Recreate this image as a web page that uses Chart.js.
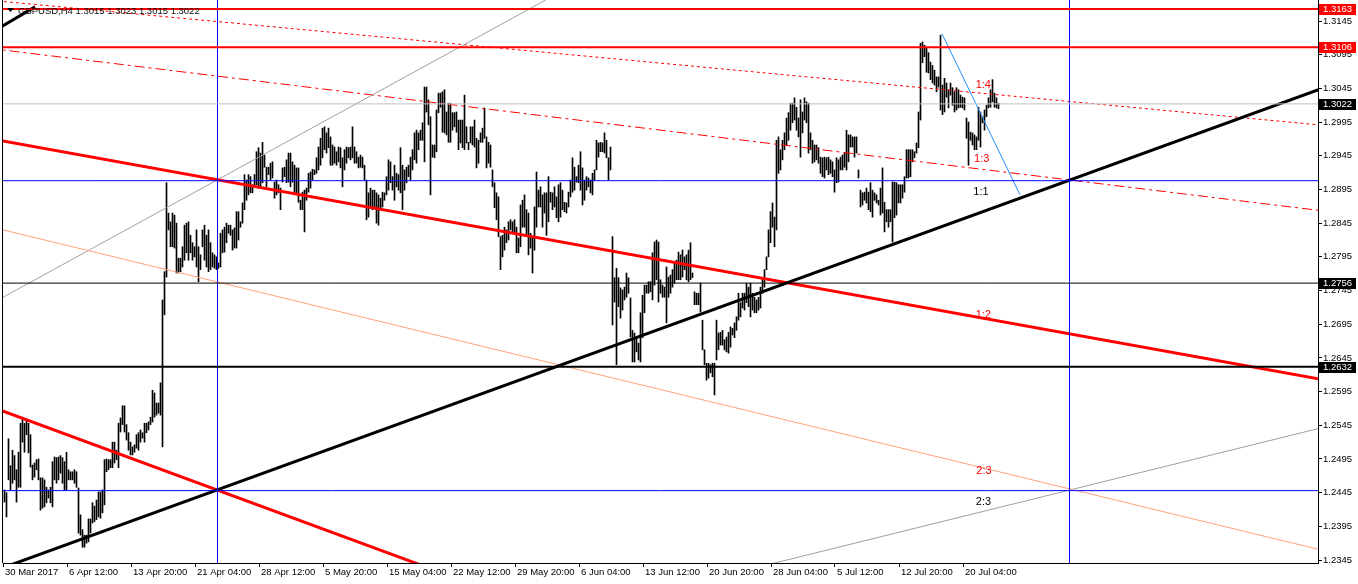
<!DOCTYPE html>
<html><head><meta charset="utf-8">
<script src="https://cdn.jsdelivr.net/npm/chart.js@4.4.1/dist/chart.umd.min.js"></script>
<style>html,body{margin:0;padding:0;background:#fff;overflow:hidden}canvas{display:block}</style>
</head><body>
<div style="width:1358px;height:584px;position:relative"><canvas id="c" width="1358" height="584"></canvas></div>
<script>
// ---- H4 bars (high / low), one per bar, oldest first ----
const highs = [
1.2449,1.2445,1.2525,1.2485,1.2508,1.2500,1.2479,1.2505,1.2548,1.2557,
1.2548,1.2554,1.2548,1.2531,1.2486,1.2489,1.2494,1.2495,1.2467,1.2467,
1.2464,1.2453,1.2449,1.2453,1.2491,1.2498,1.2497,1.2498,1.2500,1.2497,
1.2491,1.2505,1.2479,1.2476,1.2476,1.2479,1.2476,1.2452,1.2412,1.2390,
1.2382,1.2382,1.2406,1.2406,1.2430,1.2425,1.2434,1.2446,1.2446,1.2449,
1.2494,1.2495,1.2494,1.2494,1.2520,1.2520,1.2508,1.2548,1.2556,1.2574,
1.2574,1.2546,1.2534,1.2520,1.2513,1.2516,1.2531,1.2534,1.2538,1.2534,
1.2548,1.2548,1.2550,1.2557,1.2597,1.2593,1.2578,1.2578,1.2608,1.2731,
1.2773,1.2905,1.2860,1.2847,1.2860,1.2857,1.2845,1.2793,1.2793,1.2810,
1.2842,1.2845,1.2847,1.2827,1.2816,1.2810,1.2835,1.2810,1.2798,1.2835,
1.2842,1.2827,1.2835,1.2816,1.2801,1.2798,1.2795,1.2786,1.2830,1.2835,
1.2839,1.2845,1.2842,1.2842,1.2835,1.2838,1.2862,1.2862,1.2847,1.2875,
1.2917,1.2909,1.2917,1.2914,1.2902,1.2917,1.2951,1.2957,1.2949,1.2965,
1.2946,1.2928,1.2928,1.2934,1.2936,1.2906,1.2909,1.2902,1.2897,1.2927,
1.2928,1.2939,1.2949,1.2949,1.2936,1.2931,1.2927,1.2927,1.2879,1.2891,
1.2894,1.2897,1.2919,1.2921,1.2925,1.2924,1.2942,1.2958,1.2971,1.2986,
1.2988,1.2979,1.2986,1.2973,1.2961,1.2958,1.2951,1.2958,1.2957,1.2942,
1.2954,1.2958,1.2957,1.2958,1.2988,1.2958,1.2951,1.2943,1.2946,1.2943,
1.2931,1.2909,1.2890,1.2897,1.2894,1.2894,1.2890,1.2887,1.2882,1.2891,
1.2890,1.2914,1.2939,1.2936,1.2914,1.2931,1.2919,1.2917,1.2957,1.2931,
1.2924,1.2928,1.2931,1.2943,1.2954,1.2979,1.2983,1.2979,1.2983,1.2994,
1.3047,1.3047,1.3028,1.3003,1.2961,1.2961,1.3013,1.3038,1.3038,1.3040,
1.3043,1.3010,1.3023,1.3023,1.3009,1.3009,1.3010,1.2998,1.2998,1.2998,
1.3035,1.2988,1.2965,1.2988,1.2988,1.2998,1.2971,1.2968,1.2979,1.2986,
1.3016,1.2973,1.2965,1.2961,1.2924,1.2905,1.2890,1.2884,1.2825,1.2827,
1.2839,1.2835,1.2847,1.2850,1.2847,1.2850,1.2839,1.2823,1.2872,1.2879,
1.2887,1.2865,1.2860,1.2830,1.2825,1.2869,1.2921,1.2894,1.2899,1.2887,
1.2890,1.2890,1.2914,1.2891,1.2890,1.2899,1.2884,1.2902,1.2905,1.2894,
1.2876,1.2875,1.2891,1.2909,1.2942,1.2928,1.2914,1.2931,1.2951,1.2927,
1.2909,1.2914,1.2912,1.2909,1.2919,1.2924,1.2968,1.2964,1.2965,1.2964,
1.2979,1.2968,1.2942,1.2958,1.2825,1.2764,1.2778,1.2764,1.2749,1.2746,
1.2750,1.2771,1.2764,1.2734,1.2686,1.2682,1.2676,1.2667,1.2712,1.2738,
1.2753,1.2753,1.2758,1.2758,1.2801,1.2817,1.2820,1.2817,1.2761,1.2753,
1.2750,1.2780,1.2765,1.2768,1.2776,1.2786,1.2790,1.2802,1.2798,1.2805,
1.2795,1.2798,1.2805,1.2816,1.2771,1.2743,1.2741,1.2741,1.2756,1.2701,
1.2657,1.2637,1.2637,1.2635,1.2637,1.2637,1.2701,1.2682,1.2683,1.2686,
1.2672,1.2676,1.2683,1.2691,1.2689,1.2697,1.2706,1.2741,1.2727,1.2741,
1.2741,1.2756,1.2750,1.2756,1.2741,1.2735,1.2731,1.2735,1.2750,1.2764,
1.2776,1.2795,1.2835,1.2862,1.2875,1.2854,1.2968,1.2973,1.2954,1.2968,
1.2979,1.3001,1.3009,1.3023,1.3023,1.3031,1.3017,1.3001,1.3028,1.3010,
1.3031,1.3025,1.3023,1.2979,1.2968,1.2961,1.2961,1.2957,1.2943,1.2942,
1.2943,1.2942,1.2943,1.2939,1.2936,1.2924,1.2942,1.2939,1.2943,1.2946,
1.2949,1.2983,1.2976,1.2976,1.2973,1.2973,1.2973,1.2924,1.2894,1.2890,
1.2891,1.2897,1.2891,1.2905,1.2894,1.2890,1.2887,1.2879,1.2897,1.2927,
1.2876,1.2865,1.2865,1.2865,1.2906,1.2906,1.2905,1.2902,1.2902,1.2902,
1.2914,1.2954,1.2954,1.2954,1.2954,1.2951,1.2964,1.3010,1.3112,1.3114,
1.3109,1.3105,1.3098,1.3084,1.3079,1.3072,1.3062,1.3062,1.3124,1.3050,
1.3060,1.3053,1.3043,1.3053,1.3046,1.3040,1.3046,1.3043,1.3035,1.3032,
1.3031,1.3001,1.2995,1.2980,1.2979,1.2976,1.2973,1.3017,1.3010,1.3003,
1.3013,1.3020,1.3031,1.3043,1.3058,1.3038,1.3031,1.3023
];
const lows = [
1.2431,1.2409,1.2464,1.2449,1.2459,1.2464,1.2431,1.2453,1.2453,1.2520,
1.2505,1.2531,1.2504,1.2483,1.2464,1.2468,1.2479,1.2464,1.2419,1.2422,
1.2424,1.2430,1.2437,1.2430,1.2424,1.2464,1.2459,1.2464,1.2474,1.2459,
1.2449,1.2449,1.2464,1.2464,1.2464,1.2459,1.2453,1.2385,1.2382,1.2364,
1.2364,1.2370,1.2372,1.2385,1.2400,1.2402,1.2405,1.2409,1.2407,1.2415,
1.2427,1.2476,1.2479,1.2482,1.2482,1.2489,1.2494,1.2482,1.2535,1.2546,
1.2535,1.2523,1.2508,1.2501,1.2501,1.2505,1.2511,1.2508,1.2520,1.2526,
1.2520,1.2534,1.2538,1.2546,1.2550,1.2557,1.2560,1.2563,1.2560,1.2513,
1.2709,1.2765,1.2835,1.2810,1.2810,1.2808,1.2771,1.2771,1.2773,1.2780,
1.2790,1.2801,1.2790,1.2801,1.2790,1.2795,1.2780,1.2758,1.2776,1.2810,
1.2790,1.2780,1.2773,1.2776,1.2780,1.2778,1.2776,1.2778,1.2780,1.2801,
1.2802,1.2816,1.2830,1.2827,1.2805,1.2808,1.2808,1.2820,1.2839,1.2845,
1.2865,1.2879,1.2887,1.2890,1.2890,1.2899,1.2902,1.2897,1.2899,1.2905,
1.2928,1.2899,1.2917,1.2909,1.2912,1.2882,1.2887,1.2890,1.2865,1.2906,
1.2914,1.2905,1.2906,1.2899,1.2906,1.2890,1.2890,1.2876,1.2865,1.2865,
1.2832,1.2879,1.2891,1.2897,1.2909,1.2917,1.2919,1.2924,1.2931,1.2942,
1.2954,1.2949,1.2957,1.2931,1.2931,1.2934,1.2931,1.2936,1.2927,1.2899,
1.2924,1.2934,1.2942,1.2939,1.2942,1.2934,1.2934,1.2927,1.2928,1.2927,
1.2909,1.2850,1.2854,1.2868,1.2865,1.2869,1.2845,1.2842,1.2865,1.2869,
1.2879,1.2887,1.2894,1.2905,1.2894,1.2879,1.2899,1.2894,1.2890,1.2865,
1.2894,1.2905,1.2914,1.2909,1.2924,1.2939,1.2934,1.2954,1.2968,1.2968,
1.2936,1.3010,1.2991,1.2887,1.2943,1.2942,1.2951,1.3009,1.3017,1.2980,
1.2979,1.2976,1.2965,1.2965,1.2983,1.2988,1.2980,1.2954,1.2964,1.2957,
1.2954,1.2964,1.2954,1.2964,1.2961,1.2958,1.2927,1.2934,1.2965,1.2965,
1.2971,1.2927,1.2934,1.2928,1.2899,1.2868,1.2850,1.2825,1.2776,1.2795,
1.2805,1.2816,1.2820,1.2835,1.2832,1.2830,1.2801,1.2801,1.2810,1.2839,
1.2839,1.2825,1.2798,1.2808,1.2771,1.2805,1.2839,1.2869,1.2869,1.2839,
1.2860,1.2827,1.2847,1.2876,1.2865,1.2869,1.2853,1.2847,1.2854,1.2865,
1.2862,1.2860,1.2869,1.2884,1.2891,1.2894,1.2906,1.2905,1.2894,1.2872,
1.2879,1.2894,1.2899,1.2890,1.2887,1.2909,1.2924,1.2943,1.2951,1.2951,
1.2949,1.2942,1.2909,1.2924,1.2694,1.2728,1.2635,1.2721,1.2704,1.2716,
1.2731,1.2735,1.2741,1.2676,1.2639,1.2639,1.2654,1.2642,1.2639,1.2675,
1.2712,1.2741,1.2741,1.2743,1.2731,1.2753,1.2761,1.2728,1.2741,1.2735,
1.2735,1.2697,1.2735,1.2741,1.2750,1.2756,1.2761,1.2761,1.2761,1.2765,
1.2776,1.2761,1.2758,1.2761,1.2764,1.2724,1.2724,1.2724,1.2713,1.2657,
1.2635,1.2612,1.2615,1.2623,1.2617,1.2590,1.2642,1.2657,1.2664,1.2664,
1.2657,1.2654,1.2652,1.2661,1.2679,1.2675,1.2686,1.2701,1.2706,1.2719,
1.2716,1.2727,1.2721,1.2706,1.2716,1.2712,1.2712,1.2716,1.2719,1.2741,
1.2750,1.2776,1.2795,1.2816,1.2839,1.2810,1.2835,1.2919,1.2924,1.2939,
1.2954,1.2961,1.2968,1.2983,1.2994,1.2998,1.2983,1.2973,1.2943,1.2979,
1.2998,1.2994,1.2949,1.2954,1.2934,1.2936,1.2939,1.2934,1.2919,1.2914,
1.2912,1.2924,1.2917,1.2919,1.2914,1.2891,1.2905,1.2906,1.2924,1.2924,
1.2928,1.2924,1.2936,1.2958,1.2958,1.2943,1.2949,1.2912,1.2869,1.2872,
1.2879,1.2875,1.2865,1.2862,1.2854,1.2879,1.2875,1.2872,1.2857,1.2860,
1.2832,1.2847,1.2839,1.2847,1.2817,1.2853,1.2857,1.2875,1.2875,1.2882,
1.2891,1.2912,1.2912,1.2914,1.2936,1.2942,1.2949,1.2957,1.2998,1.3083,
1.3092,1.3069,1.3068,1.3058,1.3053,1.3050,1.3040,1.3047,1.3013,1.3006,
1.3010,1.3032,1.3016,1.3035,1.3020,1.3010,1.3013,1.3016,1.3017,1.3016,
1.3013,1.2971,1.2931,1.2968,1.2961,1.2954,1.2954,1.2968,1.2958,1.2994,
1.2983,1.3003,1.3016,1.3017,1.3025,1.3017,1.3016,1.3015
];

// ---- axis labels ----
const timeLabels = ["30 Mar 2017","6 Apr 12:00","13 Apr 20:00","21 Apr 04:00","28 Apr 12:00","5 May 20:00","15 May 04:00","22 May 12:00","29 May 20:00","6 Jun 04:00","13 Jun 12:00","20 Jun 20:00","28 Jun 04:00","5 Jul 12:00","12 Jul 20:00","20 Jul 04:00"];
const timeLabelBars = [0,32,64,96,128,160,192,224,256,288,320,352,384,416,448,480];
const priceTicks = [1.3145,1.3095,1.3045,1.2995,1.2945,1.2895,1.2845,1.2795,1.2745,1.2695,1.2645,1.2595,1.2545,1.2495,1.2445,1.2395,1.2345];

// ---- header ----
const symbolName = "GBPUSD";
const periodName = "H4";
const lastOHLC = [1.3015, 1.3023, 1.3015, 1.3022];

// ---- horizontal levels ----
const levelPrices = [1.3163, 1.3106, 1.3022, 1.2908, 1.2756, 1.2632, 1.2448];
const levelColors = ["#ff0000","#ff0000","#c0c0c0","#0000ff","#000000","#000000","#0000ff"];
const levelWidths = [2, 2, 1, 1, 1, 2, 1];
const levelBoxed  = [true, true, true, false, true, true, false];
const levelBoxBg  = ["#ff0000","#ff0000","#000000","","#000000","#000000",""];

// ---- vertical lines (bar positions) ----
const vLineBars = [106.5, 532.5];

// ---- trend lines: anchor bar / price pairs ----
const trendBar1   = [106.25, -0.75, -0.75, -0.75, -0.75, -0.75, 532.75, -0.75, -0.75, 468.75];
const trendPrice1 = [1.2449, 1.3138, 1.2967, 1.2566, 1.2835, 1.2735, 1.2449, 1.3174, 1.3102, 1.3126];
const trendBar2   = [532.75, 15.25, 656.75, 106.25, 656.75, 106.25, 656.75, 656.75, 532.75, 507.75];
const trendPrice2 = [1.2909, 1.3166, 1.2614, 1.2449, 1.2361, 1.2909, 1.2540, 1.2991, 1.2909, 1.2887];
const trendRay    = ["both","left","both","both","both","both","both","both","both","none"];
const trendColor  = ["#000000","#000000","#ff0000","#ff0000","#ffa07a","#a0a0a0","#a0a0a0","#ff0000","#ff0000","#1e90ff"];
const trendWidth  = [3, 3, 3, 3, 1, 1, 1, 1, 1, 1];
const trendDash   = [[],[],[],[],[],[],[],[3,3],[10,4,3,4],[]];

// ---- text objects ----
const textLabels = ["1:4","1:3","1:1","1:2","2:3","2:3"];
const textBars   = [489.4, 488.6, 488.25, 489.4, 489.75, 489.5];
const textPrices = [1.3050, 1.2940, 1.2891, 1.2709, 1.2477, 1.2431];
const textColors = ["#ff0000","#ff0000","#000000","#ff0000","#ff0000","#000000"];

const X_MIN = -0.75, X_MAX = 656.75;
const Y_MIN = 1.23406, Y_MAX = 1.31762;
const FONT = '"Liberation Sans", Arial, sans-serif';

const datasets = [];
datasets.push({
  type: 'bar', label: 'bars', order: 10,
  data: highs.map((h, i) => ({x: i, y: [lows[i], h]})),
  backgroundColor: '#000', borderWidth: 0, barThickness: 1, minBarLength: 1
});
function lineDs(pts, color, width, dash) {
  return {type:'line', order:0, data: pts, borderColor: color, borderWidth: width,
    borderDash: dash || [], pointRadius: 0, fill: false, tension: 0, borderCapStyle: 'butt'};
}
levelPrices.forEach((p, k) => {
  datasets.push(lineDs([{x:X_MIN,y:p},{x:X_MAX,y:p}], levelColors[k], levelWidths[k]));
});
vLineBars.forEach(b => {
  datasets.push(lineDs([{x:b,y:Y_MIN},{x:b,y:Y_MAX}], '#0000ff', 1));
});
trendBar1.forEach((b1, k) => {
  const b2 = trendBar2[k], p1 = trendPrice1[k], p2 = trendPrice2[k];
  const slope = (p2 - p1) / (b2 - b1);
  const ray = trendRay[k];
  const L = -60, R = 720;
  const a = (ray === 'both' || ray === 'left') ? {x:L, y:p1 + slope*(L-b1)} : {x:b1, y:p1};
  const z = (ray === 'both' || ray === 'right') ? {x:R, y:p1 + slope*(R-b1)} : {x:b2, y:p2};
  datasets.push(lineDs([a, z], trendColor[k], trendWidth[k], trendDash[k]));
});

const overlay = {
  id: 'overlay',
  afterDatasetsDraw(chart) {
    const {ctx, scales:{x, y}} = chart;
    ctx.save();
    ctx.font = '11px ' + FONT;
    ctx.textAlign = 'center'; ctx.textBaseline = 'middle';
    textLabels.forEach((t, k) => {
      ctx.fillStyle = textColors[k];
      ctx.fillText(t, x.getPixelForValue(textBars[k]), y.getPixelForValue(textPrices[k]));
    });
    ctx.restore();
  },
  afterDraw(chart) {
    const {ctx, chartArea, scales:{y}} = chart;
    ctx.save();
    ctx.fillStyle = '#000';
    ctx.fillRect(chartArea.left - 1, chartArea.top, 1, chartArea.bottom - chartArea.top);
    ctx.font = '9.5px ' + FONT;
    ctx.textBaseline = 'middle'; ctx.textAlign = 'left';
    levelPrices.forEach((p, k) => {
      if (!levelBoxed[k]) return;
      const py = Math.round(y.getPixelForValue(p));
      ctx.fillStyle = levelBoxBg[k];
      ctx.fillRect(chartArea.right + 1, py - 5, 37, 11);
      ctx.fillStyle = '#fff';
      ctx.fillText(p.toFixed(4), chartArea.right + 5, py + 0.5);
    });
    ctx.fillStyle = '#000';
    ctx.beginPath();
    ctx.moveTo(chartArea.left + 4, chartArea.top + 8);
    ctx.lineTo(chartArea.left + 11, chartArea.top + 8);
    ctx.lineTo(chartArea.left + 7.5, chartArea.top + 12);
    ctx.closePath(); ctx.fill();
    ctx.fillStyle = '#0a0a0a';
    ctx.fillText(symbolName + ',' + periodName + ' ' + lastOHLC.map(v => v.toFixed(4)).join(' '), chartArea.left + 15, chartArea.top + 11);
    ctx.restore();
  }
};

Chart.defaults.font.family = FONT;
Chart.defaults.font.size = 9.5;
Chart.defaults.color = '#000';

new Chart(document.getElementById('c'), {
  type: 'bar',
  data: { datasets },
  options: {
    responsive: false, animation: false, devicePixelRatio: 1,
    layout: { padding: { left: 3, top: 0, right: 0, bottom: 0 } },
    plugins: { legend: { display: false }, tooltip: { enabled: false } },
    scales: {
      x: {
        type: 'linear', min: X_MIN, max: X_MAX, offset: false,
        grid: { display: true, drawOnChartArea: false, drawTicks: true, tickLength: 4, color: '#000', offset: false },
        border: { display: true, color: '#000', width: 1 },
        afterBuildTicks: s => { s.ticks = timeLabelBars.map(b => ({value: b - 0.75})); },
        afterFit: s => { s.height = 21; s.paddingLeft = 0; s.paddingRight = 0; },
        ticks: { autoSkip: false, maxRotation: 0, align: 'start', labelOffset: 2, padding: 0,
                 callback: (v, i) => timeLabels[i] }
      },
      y: {
        type: 'linear', position: 'right', min: Y_MIN, max: Y_MAX, beginAtZero: false,
        grid: { display: true, drawOnChartArea: false, drawTicks: true, tickLength: 4, color: '#000' },
        border: { display: true, color: '#000', width: 1 },
        afterBuildTicks: s => { s.ticks = priceTicks.map(v => ({value: v})); },
        afterFit: s => { s.width = 40; s.paddingTop = 0; s.paddingBottom = 0; },
        ticks: { autoSkip: false, padding: 1, callback: v => Number(v).toFixed(4) }
      }
    }
  },
  plugins: [overlay]
});
</script>
</body></html>
